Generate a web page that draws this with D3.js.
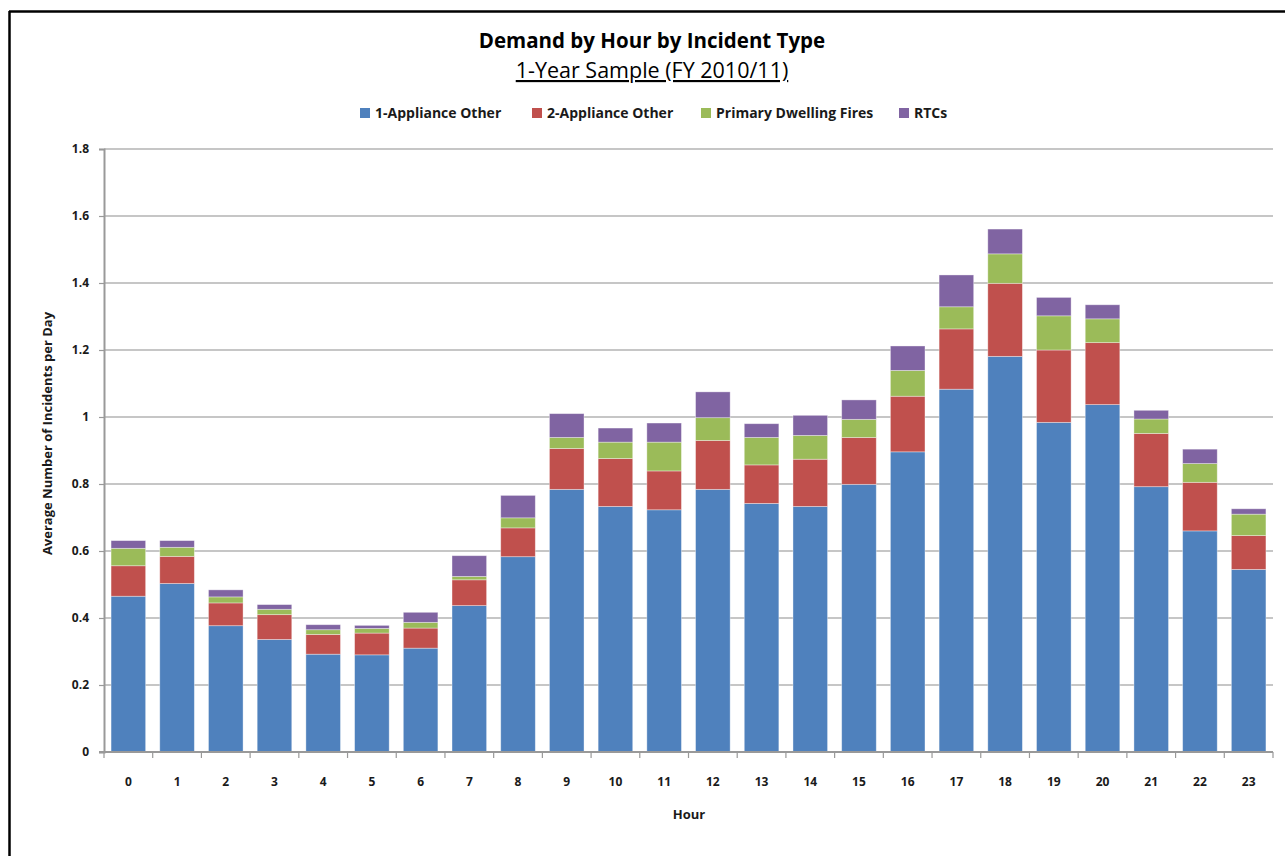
<!DOCTYPE html>
<html>
<head>
<meta charset="utf-8">
<script src="https://cdn.jsdelivr.net/npm/d3@7"></script>
<style>
  html, body { margin: 0; padding: 0; background: #fff; }
  svg { display: block; font-family: "Open Sans", Lato, sans-serif; }
</style>
</head>
<body>
<svg id="chart" width="1285" height="856"></svg>
<script>
// Hours of the day (category axis)
const hours = ["0","1","2","3","4","5","6","7","8","9","10","11","12","13","14","15","16","17","18","19","20","21","22","23"];

// Average incidents per day, by incident type
const oneApplianceOther = [0.465,0.503,0.377,0.336,0.292,0.290,0.310,0.437,0.583,0.784,0.733,0.723,0.784,0.742,0.733,0.799,0.896,1.083,1.181,0.984,1.037,0.792,0.660,0.545];
const twoApplianceOther = [0.091,0.081,0.068,0.074,0.059,0.065,0.060,0.077,0.086,0.122,0.143,0.116,0.146,0.115,0.141,0.140,0.166,0.180,0.218,0.216,0.185,0.159,0.145,0.101];
const primaryDwellingFires = [0.052,0.027,0.018,0.016,0.014,0.014,0.017,0.010,0.030,0.033,0.049,0.086,0.068,0.082,0.071,0.054,0.077,0.066,0.088,0.102,0.071,0.043,0.056,0.064];
const rtcs = [0.023,0.020,0.021,0.014,0.015,0.009,0.030,0.062,0.067,0.071,0.042,0.057,0.077,0.041,0.060,0.058,0.073,0.095,0.074,0.055,0.042,0.026,0.043,0.016];

const seriesNames = ["1-Appliance Other","2-Appliance Other","Primary Dwelling Fires","RTCs"];
const seriesColors = ["#4F81BD","#C0504D","#9BBB59","#8064A2"];
const yTicks = [0,0.2,0.4,0.6,0.8,1,1.2,1.4,1.6,1.8];

const seriesValues = [oneApplianceOther, twoApplianceOther, primaryDwellingFires, rtcs];
const rows = hours.map((h, i) => {
  const r = { hour: h };
  seriesNames.forEach((s, k) => r[s] = seriesValues[k][i]);
  return r;
});

const svg = d3.select("#chart");
const W = 1285, H = 856;
const plot = { left: 104, right: 1273, top: 149, bottom: 752 };
const textColor = "#1a1a1a";

// outer frame (top and left edges)
svg.append("line").attr("x1", 9.5).attr("x2", 9.5).attr("y1", 11).attr("y2", H)
  .attr("stroke", "#000").attr("stroke-width", 2.5);
svg.append("line").attr("x1", 9).attr("x2", W).attr("y1", 11.5).attr("y2", 11.5)
  .attr("stroke", "#000").attr("stroke-width", 2.5);

const x = d3.scaleBand().domain(hours).range([plot.left, plot.right]).paddingInner(0.29).paddingOuter(0.145);
const y = d3.scaleLinear().domain([0, 1.8]).range([plot.bottom, plot.top]);

// horizontal gridlines
svg.append("g").selectAll("line").data(yTicks.filter(d => d > 0)).join("line")
  .attr("x1", plot.left).attr("x2", plot.right)
  .attr("y1", d => y(d)).attr("y2", d => y(d))
  .attr("stroke", "#b3b3b3").attr("stroke-width", 1.6);

// stacked bars
const stack = d3.stack().keys(seriesNames)(rows);
svg.append("g").selectAll("g").data(stack).join("g")
  .attr("fill", (d, i) => seriesColors[i])
  .selectAll("rect").data(d => d).join("rect")
  .attr("x", d => x(d.data.hour))
  .attr("width", x.bandwidth())
  .attr("y", d => y(d[1]))
  .attr("height", d => y(d[0]) - y(d[1]))
  .attr("stroke", "rgba(255,255,255,0.45)").attr("stroke-width", 0.8);

// y axis
const yAxis = svg.append("g").attr("transform", `translate(${plot.left},0)`)
  .call(d3.axisLeft(y).tickValues(yTicks).tickSize(5).tickPadding(10)
    .tickFormat(d => String(+d.toFixed(1))));
yAxis.select(".domain").attr("stroke", "#999").attr("stroke-width", 2);
yAxis.selectAll(".tick line").attr("stroke", "#999").attr("stroke-width", 1.2);
yAxis.selectAll(".tick text").attr("fill", textColor).attr("font-size", 12).attr("font-weight", "bold")
  .attr("font-family", "'Open Sans', sans-serif");

// x axis with ticks between categories
const xAxisG = svg.append("g");
xAxisG.append("line").attr("x1", plot.left - 5).attr("x2", plot.right).attr("y1", plot.bottom).attr("y2", plot.bottom)
  .attr("stroke", "#999").attr("stroke-width", 2);
const boundaries = d3.range(hours.length + 1).map(i => plot.left + i * (plot.right - plot.left) / hours.length);
xAxisG.selectAll("line.tk").data(boundaries).join("line").attr("class", "tk")
  .attr("x1", d => d).attr("x2", d => d).attr("y1", plot.bottom).attr("y2", plot.bottom + 6)
  .attr("stroke", "#999").attr("stroke-width", 1.2);
xAxisG.selectAll("text").data(hours).join("text")
  .attr("x", d => x(d) + x.bandwidth() / 2).attr("y", 786)
  .attr("text-anchor", "middle").attr("fill", textColor)
  .attr("font-size", 12).attr("font-weight", "bold").text(d => d);

// titles
svg.append("text").attr("x", 652).attr("y", 48).attr("text-anchor", "middle")
  .attr("font-size", 20.5).attr("font-weight", "bold").attr("fill", "#000")
  .text("Demand by Hour by Incident Type");
svg.append("text").attr("x", 652).attr("y", 78).attr("text-anchor", "middle")
  .attr("font-size", 21.5).attr("fill", "#000").attr("text-decoration", "underline")
  .text("1-Year Sample (FY 2010/11)");

// axis titles
svg.append("text").attr("x", 689).attr("y", 819).attr("text-anchor", "middle")
  .attr("font-size", 13).attr("font-weight", "bold").attr("fill", textColor).text("Hour");
svg.append("text").attr("transform", `translate(52,${(plot.top + plot.bottom) / 2 - 17}) rotate(-90)`)
  .attr("text-anchor", "middle").attr("font-size", 13).attr("font-weight", "bold").attr("fill", textColor)
  .text("Average Number of Incidents per Day");

// legend
const legendX = [360, 532, 701, 899];
const legend = svg.append("g").selectAll("g").data(seriesNames).join("g")
  .attr("transform", (d, i) => `translate(${legendX[i]},108)`);
legend.append("rect").attr("width", 10).attr("height", 10).attr("fill", (d, i) => seriesColors[i]);
legend.append("text").attr("x", 15).attr("y", 10).attr("font-size", 14).attr("font-weight", "bold")
  .attr("fill", textColor).text(d => d);
</script>
</body>
</html>
